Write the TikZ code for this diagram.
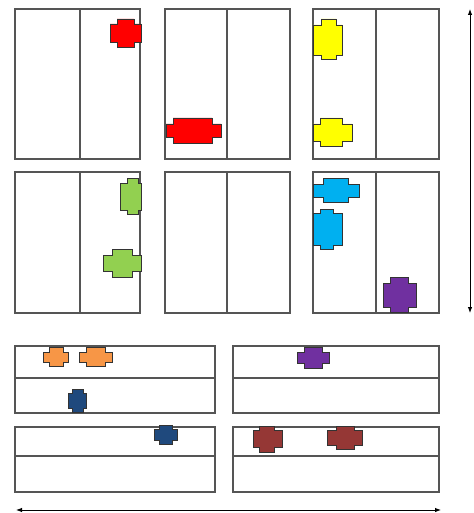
\documentclass[tikz,border=0pt]{standalone}
\usetikzlibrary{arrows.meta}
\definecolor{cred}{HTML}{FF0000}
\definecolor{cyel}{HTML}{FFFF00}
\definecolor{cgrn}{HTML}{92D050}
\definecolor{ccya}{HTML}{00B0F0}
\definecolor{cpur}{HTML}{7030A0}
\definecolor{cora}{HTML}{F79646}
\definecolor{cnav}{HTML}{1F497D}
\definecolor{cbro}{HTML}{953735}
\definecolor{cbox}{HTML}{555555}
\tikzset{
  panel/.style={draw=cbox, line width=1.5pt, fill=white},
  divider/.style={draw=cbox, line width=1.3pt},
  blobline/.style={draw=black!80, line width=0.9pt, line join=miter},
  axis/.style={draw=black, line width=0.9pt, {Latex[length=6pt,width=4.5pt]}-{Latex[length=6pt,width=4.5pt]}}
}
% cross: x1 wide-left, x2 narrow-left, x3 narrow-right, x4 wide-right; y1 top, y2 wide-top, y3 wide-bottom, y4 bottom
\newcommand{\blob}[9]{%
  \fill[#1] (#3,#6) -- (#4,#6) -- (#4,#7) -- (#5,#7) -- (#5,#8) -- (#4,#8) -- (#4,#9) -- (#3,#9) -- (#3,#8) -- (#2,#8) -- (#2,#7) -- (#3,#7) -- cycle;
  \draw[blobline] (#3,#6) -- (#4,#6) -- (#4,#7) -- (#5,#7) -- (#5,#8) -- (#4,#8) -- (#4,#9) -- (#3,#9) -- (#3,#8) -- (#2,#8) -- (#2,#7) -- (#3,#7) -- cycle;}
\begin{document}
\begin{tikzpicture}[x=1pt,y=-1pt]
\useasboundingbox (0,0) rectangle (473,513);
% top row panels
\foreach \l/\m/\r in {15/80/140, 165/227/290, 313/376/439}{
  \draw[panel] (\l,9) rectangle (\r,159);
  \draw[divider] (\m,9) -- (\m,159);
  \draw[panel] (\l,172) rectangle (\r,313);
  \draw[divider] (\m,172) -- (\m,313);
}
% bottom panels
\foreach \l/\r in {15/215, 233/439}{
  \draw[panel] (\l,346) rectangle (\r,413);
  \draw[divider] (\l,378) -- (\r,378);
  \draw[panel] (\l,427) rectangle (\r,492);
  \draw[divider] (\l,456) -- (\r,456);
}
% blobs
\blob{cred}{110}{117}{134}{141}{19}{24}{42}{47}
\blob{cred}{166}{173}{212}{221}{118}{124}{137}{143}
\blob{cyel}{313}{321}{336}{342}{19}{25}{55}{59}
\blob{cyel}{313}{320}{342}{352}{118}{124}{141}{146}
\blob{cgrn}{120}{127}{138}{141}{178}{183}{210}{214}
\blob{cgrn}{103}{112}{132}{141}{249}{255}{271}{277}
\blob{ccya}{313}{323}{348}{359}{178}{184}{197}{202}
\blob{ccya}{313}{320}{333}{342}{209}{213}{245}{249}
\blob{cpur}{383}{390}{408}{416}{277}{283}{307}{312}
\blob{cora}{43}{49}{63}{68}{347}{352}{362}{366}
\blob{cora}{79}{86}{105}{112}{347}{352}{362}{366}
\blob{cnav}{68}{72}{83}{86}{389}{393}{408}{412}
\blob{cnav}{154}{159}{172}{177}{425}{429}{440}{444}
\blob{cpur}{297}{304}{322}{329}{347}{352}{363}{368}
\blob{cbro}{253}{259}{274}{282}{426}{430}{447}{452}
\blob{cbro}{327}{336}{354}{362}{426}{430}{445}{449}
% axes
\coordinate (vt) at (470,9);
\coordinate (vb) at (470,313);
\coordinate (hl) at (16,510);
\coordinate (hr) at (441,510);
\draw[axis] (vt) -- (vb);
\draw[axis] (hl) -- (hr);
\end{tikzpicture}
\end{document}
